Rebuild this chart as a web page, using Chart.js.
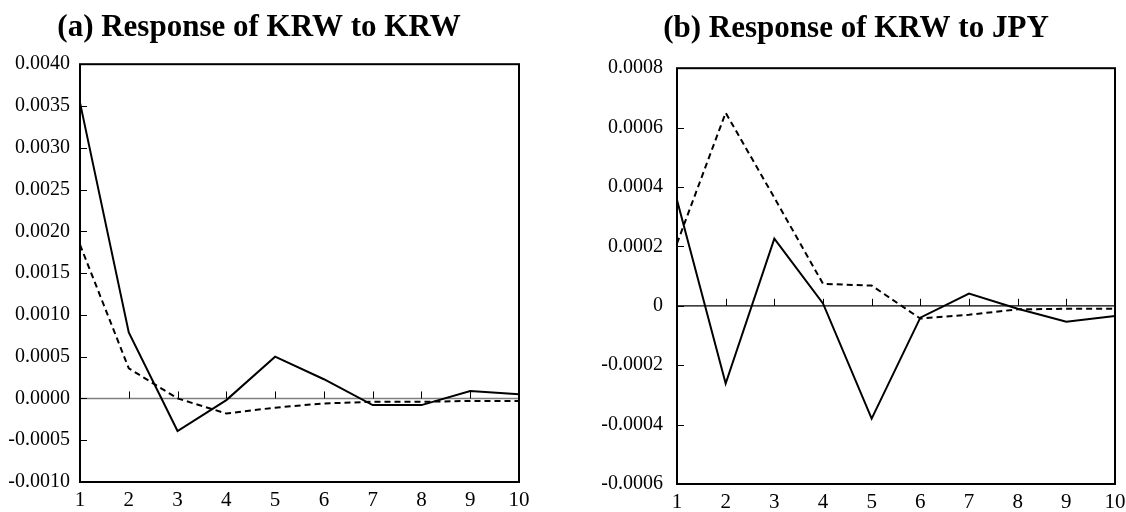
<!DOCTYPE html>
<html>
<head>
<meta charset="utf-8">
<title>Impulse responses of KRW</title>
<script src="https://cdn.jsdelivr.net/npm/chart.js@4.4.1/dist/chart.umd.min.js"></script>
<style>
  html, body { margin: 0; padding: 0; background: #fff; }
  body { width: 1126px; height: 512px; position: relative; overflow: hidden; }
  .panel { position: absolute; top: 0; }
  .panel canvas { display: block; }
  #panelA { left: -1px; }
  #panelB { left: 597px; }
</style>
</head>
<body>
<div class="panel" id="panelA"><canvas id="chartA" width="530" height="512"></canvas></div>
<div class="panel" id="panelB"><canvas id="chartB" width="528" height="512"></canvas></div>
<script>
'use strict';

// Periods after the shock
const periods = ['1', '2', '3', '4', '5', '6', '7', '8', '9', '10'];

// (a) Response of KRW to KRW
const krwKrwSolid  = [0.00354, 0.00079, -0.00039, -0.00002, 0.00050, 0.00023, -0.00008, -0.00008, 0.00009, 0.00005];
const krwKrwDashed = [0.00184, 0.00036, 0.00000, -0.00018, -0.00011, -0.00006, -0.00004, -0.00004, -0.00003, -0.00003];
const krwKrwTicks  = [-0.0010, -0.0005, 0, 0.0005, 0.0010, 0.0015, 0.0020, 0.0025, 0.0030, 0.0035, 0.0040];
const krwKrwLabels = ['-0.0010', '-0.0005', '0.0000', '0.0005', '0.0010', '0.0015', '0.0020', '0.0025', '0.0030', '0.0035', '0.0040'];

// (b) Response of KRW to JPY
const krwJpySolid  = [0.000356, -0.000262, 0.000226, 0.000008, -0.00038, -0.00004, 0.000041, -0.00001, -0.000054, -0.000034];
const krwJpyDashed = [0.00021, 0.00065, 0.000364, 0.000074, 0.000068, -0.000043, -0.00003, -0.000012, -0.00001, -0.00001];
const krwJpyTicks  = [-0.0006, -0.0004, -0.0002, 0, 0.0002, 0.0004, 0.0006, 0.0008];
const krwJpyLabels = ['-0.0006', '-0.0004', '-0.0002', '0', '0.0002', '0.0004', '0.0006', '0.0008'];

const serif = "'Liberation Serif', 'DejaVu Serif', serif";

// Box around the plot, zero line with period marks, inward value ticks
const framePlugin = {
    id: 'frame',
    beforeDatasetsDraw(chart, args, opts) {
        const { ctx, chartArea, scales } = chart;
        const zeroY = scales.y.getPixelForValue(0);
        ctx.save();
        ctx.strokeStyle = opts.zeroColor;
        ctx.lineWidth = opts.zeroWidth;
        ctx.beginPath();
        ctx.moveTo(chartArea.left, zeroY);
        ctx.lineTo(chartArea.right, zeroY);
        ctx.stroke();

        ctx.strokeStyle = '#000';
        ctx.lineWidth = 1;
        ctx.beginPath();
        for (let i = 1; i < periods.length - 1; i++) {
            const px = Math.round(scales.x.getPixelForValue(i)) + 0.5;
            ctx.moveTo(px, zeroY);
            ctx.lineTo(px, zeroY - opts.markLength);
        }
        scales.y.ticks.forEach(function(t) {
            const py = Math.round(scales.y.getPixelForValue(t.value)) + 0.5;
            ctx.moveTo(chartArea.left, py);
            ctx.lineTo(chartArea.left + opts.markLength, py);
        });
        ctx.stroke();
        ctx.restore();
    },
    afterDatasetsDraw(chart) {
        const { ctx, chartArea } = chart;
        ctx.save();
        ctx.strokeStyle = '#000';
        ctx.lineWidth = 2;
        ctx.strokeRect(chartArea.left, chartArea.top,
            chartArea.right - chartArea.left, chartArea.bottom - chartArea.top);
        ctx.restore();
    }
};

function makeChart(canvasId, title, solid, dashed, tickValues, tickLabels, layout) {
    return new Chart(document.getElementById(canvasId), {
        type: 'line',
        data: {
            labels: periods,
            datasets: [
                { data: solid, borderColor: '#000', borderWidth: 2, pointRadius: 0, tension: 0, fill: false },
                { data: dashed, borderColor: '#000', borderWidth: 2, borderDash: [6, 4], pointRadius: 0, tension: 0, fill: false }
            ]
        },
        options: {
            responsive: false,
            animation: false,
            events: [],
            layout: { autoPadding: false, padding: { left: 0, right: 10, top: 0, bottom: 0 } },
            plugins: {
                legend: { display: false },
                tooltip: { enabled: false },
                title: {
                    display: true,
                    text: title,
                    color: '#000',
                    font: { family: serif, size: 31, weight: 'bold', lineHeight: 1.2 },
                    padding: layout.titlePadding
                },
                frame: { zeroColor: layout.zeroColor, zeroWidth: layout.zeroWidth, markLength: 7 }
            },
            scales: {
                x: {
                    type: 'category',
                    offset: false,
                    grid: { display: false, drawTicks: false },
                    border: { display: false },
                    ticks: { color: '#000', font: { family: serif, size: 21 }, padding: 6, maxRotation: 0, autoSkip: false },
                    afterFit(scale) {
                        scale.height = layout.xHeight;
                        // end labels may hang over the frame, as in the print
                        scale.paddingLeft = 0;
                        scale.paddingRight = 0;
                    }
                },
                y: {
                    min: tickValues[0],
                    max: tickValues[tickValues.length - 1],
                    grid: { display: false, drawTicks: false },
                    border: { display: false },
                    afterBuildTicks(scale) {
                        scale.ticks = tickValues.map(function(v) { return { value: v }; });
                    },
                    ticks: {
                        color: '#000',
                        font: { family: serif, size: 20 },
                        padding: layout.yPad,
                        callback: function(value, index) { return tickLabels[index]; }
                    },
                    afterFit(scale) { scale.width = layout.yWidth; }
                }
            }
        },
        plugins: [framePlugin]
    });
}

makeChart('chartA', '(a) Response of KRW to KRW', krwKrwSolid, krwKrwDashed, krwKrwTicks, krwKrwLabels, {
    titlePadding: { top: 9, bottom: 18 },
    xHeight: 30,
    yWidth: 81,
    yPad: 10,
    zeroColor: '#808080',
    zeroWidth: 1.5
});

makeChart('chartB', '(b) Response of KRW to JPY', krwJpySolid, krwJpyDashed, krwJpyTicks, krwJpyLabels, {
    titlePadding: { top: 10, bottom: 21 },
    xHeight: 28,
    yWidth: 80,
    yPad: 14,
    zeroColor: '#000',
    zeroWidth: 1.2
});
</script>
</body>
</html>
